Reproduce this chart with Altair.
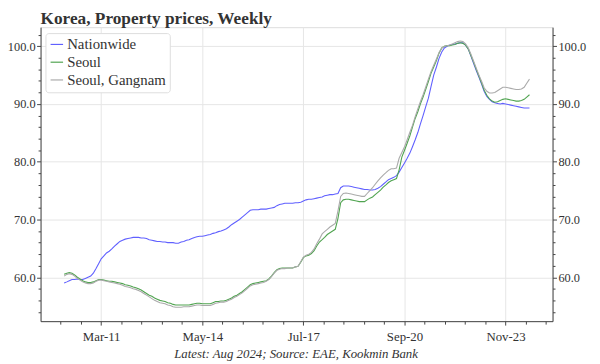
import altair as alt
import pandas as pd

# ---------------- data (monthly readings, Jan 2010 .. Aug 2024) ----------------
start_month = "2010-01-01"

nationwide = [
    59.0, 59.2, 59.4, 59.6, 59.6, 59.7, 59.6, 59.6, 59.8, 60.0,
    60.2, 60.7, 61.5, 62.4, 63.2, 63.7, 64.2, 64.5, 64.9, 65.4,
    65.8, 66.2, 66.4, 66.6, 66.7, 66.8, 66.9, 66.9, 66.9, 66.8,
    66.8, 66.7, 66.5, 66.4, 66.3, 66.2, 66.2, 66.1, 66.1, 66.0,
    66.0, 66.0, 65.9, 65.9, 66.1, 66.2, 66.4, 66.5, 66.7, 66.9,
    67.0, 67.1, 67.1, 67.2, 67.3, 67.4, 67.6, 67.7, 67.9, 68.0,
    68.2, 68.4, 68.7, 69.1, 69.4, 69.7, 70.0, 70.4, 70.8, 71.2,
    71.6, 71.7, 71.7, 71.7, 71.8, 71.8, 71.8, 71.9, 72.0, 72.1,
    72.4, 72.6, 72.7, 72.8, 72.8, 72.8, 72.8, 72.9, 72.9, 73.0,
    73.2, 73.4, 73.5, 73.5, 73.6, 73.7, 73.8, 73.9, 74.1, 74.2,
    74.3, 74.3, 74.4, 74.5, 75.5, 75.8, 75.8, 75.8, 75.7, 75.6,
    75.5, 75.4, 75.3, 75.2, 75.2, 75.1, 75.1, 75.2, 75.4, 75.7,
    76.1, 76.5, 76.9, 77.1, 77.3, 77.6, 78.2, 79.0, 79.8, 80.6,
    81.5, 82.6, 83.8, 85.1, 86.5, 88.0, 89.5, 91.0, 93.0, 95.0,
    96.4, 97.9, 99.0, 99.7, 100.0, 100.2, 100.3, 100.4, 100.5, 100.6,
    100.6, 100.2, 99.5, 98.3, 97.0, 95.8, 94.6, 93.4, 92.2, 91.3,
    90.8, 90.4, 90.2, 90.1, 90.0, 90.1, 90.0, 89.9, 89.8, 89.7,
    89.6, 89.5, 89.4, 89.3, 89.3, 89.3,
]

seoul = [
    60.5, 60.7, 60.8, 60.7, 60.4, 60.0, 59.7, 59.4, 59.2, 59.1,
    59.1, 59.2, 59.4, 59.6, 59.6, 59.5, 59.4, 59.3, 59.3, 59.2,
    59.1, 59.0, 58.9, 58.7, 58.6, 58.5, 58.3, 58.2, 58.0, 57.8,
    57.5, 57.2, 56.9, 56.7, 56.4, 56.2, 56.0, 55.9, 55.8, 55.6,
    55.5, 55.3, 55.2, 55.2, 55.2, 55.2, 55.2, 55.2, 55.3, 55.4,
    55.5, 55.5, 55.4, 55.4, 55.4, 55.4, 55.6, 55.8, 55.8, 55.9,
    55.9, 56.0, 56.2, 56.4, 56.7, 56.9, 57.2, 57.5, 57.9, 58.3,
    58.7, 58.9, 59.0, 59.1, 59.2, 59.3, 59.4, 59.7, 60.2, 60.8,
    61.3, 61.5, 61.6, 61.6, 61.6, 61.6, 61.6, 61.8, 61.9, 62.6,
    63.4, 63.7, 63.8, 64.1, 64.6, 65.4, 66.1, 66.5, 66.9, 67.4,
    67.7, 68.0, 68.3, 70.2, 72.9, 73.4, 73.5, 73.5, 73.4, 73.3,
    73.2, 73.1, 73.1, 73.1, 73.4, 73.7, 73.9, 74.3, 74.7, 75.1,
    75.6, 76.0, 76.4, 76.7, 76.9, 77.1, 78.6, 80.8, 82.0, 83.2,
    84.5, 86.0, 87.5, 88.7, 90.0, 91.2, 92.5, 93.9, 95.3, 96.4,
    97.5, 98.8, 99.7, 100.0, 100.1, 100.1, 100.2, 100.3, 100.5, 100.6,
    100.5, 100.2, 99.5, 98.4, 97.2, 96.0, 94.8, 93.6, 92.4, 91.5,
    90.9, 90.5, 90.3, 90.4, 90.6, 90.8, 90.9, 90.8, 90.7, 90.6,
    90.5, 90.5, 90.6, 90.8, 91.2, 91.6,
]

gangnam = [
    60.2, 60.5, 60.6, 60.5, 60.2, 59.8, 59.5, 59.2, 59.0, 58.9,
    58.9, 59.0, 59.3, 59.5, 59.5, 59.4, 59.3, 59.2, 59.1, 59.0,
    58.9, 58.8, 58.6, 58.4, 58.3, 58.2, 58.0, 57.9, 57.7, 57.5,
    57.2, 56.9, 56.6, 56.3, 56.0, 55.8, 55.6, 55.5, 55.4, 55.2,
    55.1, 54.9, 54.8, 54.8, 54.8, 54.9, 54.9, 54.9, 55.0, 55.1,
    55.2, 55.2, 55.1, 55.1, 55.1, 55.1, 55.3, 55.5, 55.6, 55.7,
    55.7, 55.8, 56.0, 56.2, 56.5, 56.7, 57.0, 57.3, 57.7, 58.1,
    58.5, 58.7, 58.8, 58.9, 59.0, 59.1, 59.3, 59.6, 60.1, 60.7,
    61.2, 61.4, 61.5, 61.5, 61.6, 61.6, 61.6, 61.8, 61.9, 62.7,
    63.5, 63.8, 64.0, 64.3, 64.9, 65.8, 66.6, 67.5, 67.9, 68.3,
    68.7, 69.0, 69.3, 71.5, 74.0, 74.5, 74.6, 74.5, 74.4, 74.3,
    74.2, 74.1, 74.0, 74.0, 74.5, 75.0, 75.5, 76.1, 76.7, 77.2,
    77.7, 78.1, 78.5, 78.8, 78.8, 78.9, 80.6, 81.6, 82.6, 83.8,
    85.1, 86.3, 87.8, 89.2, 90.4, 91.6, 92.9, 94.3, 95.6, 96.7,
    97.8, 98.9, 99.7, 100.0, 100.1, 100.2, 100.4, 100.6, 100.8, 100.9,
    100.8, 100.4, 99.7, 98.6, 97.4, 96.2, 95.0, 93.9, 92.8, 92.2,
    91.9, 91.9, 92.0, 92.3, 92.6, 92.9, 92.9, 92.8, 92.7, 92.6,
    92.5, 92.5, 92.6, 92.9, 93.6, 94.3,
]

series_names = ["Nationwide", "Seoul", "Seoul, Gangnam"]
series_colors = ["#6060ff", "#50a450", "#aaaaaa"]

# x-axis tick labels (major ticks) : year, month
major_ticks = [(2011, 3), (2014, 5), (2017, 7), (2020, 9), (2023, 11)]
y_ticks = list(range(54, 103, 2))

title_text = "Korea, Property prices, Weekly"
footer_text = "Latest: Aug 2024; Source: EAE, Kookmin Bank"

# ---------------- build table ----------------
dates = pd.date_range(start_month, periods=len(nationwide), freq="MS")
frames = []
for name, vals in zip(series_names, [nationwide, seoul, gangnam]):
    frames.append(pd.DataFrame({"date": dates, "value": vals, "series": name}))
df = pd.concat(frames, ignore_index=True)

# major ticks on the 1st of the month; 4 minor ticks between majors (never on the 1st)
majors = [pd.Timestamp(year=y, month=m, day=1) for y, m in major_ticks]
step = (majors[1] - majors[0]) / 5
tick_ts = list(majors)
for k in (-3, -2, -1):
    tick_ts.append((majors[0] + step * k).normalize())
for a, b in zip(majors[:-1], majors[1:]):
    st = (b - a) / 5
    for k in range(1, 5):
        tick_ts.append((a + st * k).normalize())
for k in (1, 2, 3):
    tick_ts.append((majors[-1] + step * k).normalize())
tick_ts = [t if (t.day != 1 or t in majors) else t + pd.Timedelta(days=1) for t in tick_ts]
tick_vals = [alt.DateTime(year=t.year, month=t.month, date=t.day) for t in sorted(tick_ts)]

FONT = "Liberation Serif"
TXT = "#333333"
is_major_x = "timeFormat(datum.value, '%d') == '01'"
is_major_y = "datum.value % 10 == 0"

x_axis = alt.Axis(
    values=tick_vals,
    labelExpr=f"{is_major_x} ? timeFormat(datum.value, '%b-%y') : ''",
    tickSize={"condition": {"test": is_major_x, "value": 4}, "value": 3},
    gridOpacity={"condition": {"test": is_major_x, "value": 1}, "value": 0},
    grid=True, gridColor="#e6e6e6", gridWidth=1,
    domainColor="#444444", tickColor="#444444",
    labelFont=FONT, labelFontSize=13, labelColor=TXT, labelPadding=6,
    labelOverlap=False, labelFlush=False, title=None,
)

def y_axis(orient, grid):
    return alt.Axis(
        orient=orient,
        values=y_ticks,
        labelExpr=f"{is_major_y} ? format(datum.value, '.1f') : ''",
        tickSize={"condition": {"test": is_major_y, "value": 4}, "value": 2.5},
        gridOpacity={"condition": {"test": is_major_y, "value": 1}, "value": 0},
        grid=grid, gridColor="#e6e6e6", gridWidth=1,
        domainColor="#444444", tickColor="#444444",
        labelFont=FONT, labelFontSize=12.5, labelColor=TXT, labelPadding=1.5,
        labelOverlap=False, labelFlush=False, title=None,
    )

xs = alt.Scale(domain=[alt.DateTime(year=2009, month=4, date=6),
                       alt.DateTime(year=2025, month=4, date=22)])
ys = alt.Scale(domain=[52.4, 103.3], nice=False, zero=False)

base = alt.Chart(df).encode(x=alt.X("date:T", scale=xs, axis=x_axis))

lines = base.mark_line(strokeWidth=1.1).encode(
    y=alt.Y("value:Q", scale=ys, axis=y_axis("left", True)),
    color=alt.Color(
        "series:N",
        scale=alt.Scale(domain=series_names, range=series_colors),
        legend=alt.Legend(
            orient="none", legendX=5, legendY=6, title=None,
            symbolType="stroke", symbolStrokeWidth=1.2, symbolSize=160,
            labelFont=FONT, labelFontSize=15, labelColor=TXT,
            fillColor="white", strokeColor="#dddddd", padding=4,
            cornerRadius=3, rowPadding=2, labelOffset=3,
        ),
    ),
)

right = base.mark_line(opacity=0).encode(
    y=alt.Y("value:Q", scale=ys, axis=y_axis("right", False)),
    detail="series:N",
)

footer = alt.Chart(pd.DataFrame({"t": [footer_text]})).mark_text(
    font=FONT, fontSize=13, fontStyle="italic", color=TXT, align="center", baseline="middle"
).encode(text="t:N", x=alt.value(259), y=alt.value(331))

chart = alt.layer(lines, right, footer).resolve_axis(y="independent").properties(
    width=519, height=298,
    autosize=alt.AutoSizeParams(type="none"),
    padding={"left": 33, "top": 17, "right": 40, "bottom": 41},
    title=alt.TitleParams(title_text, anchor="start", frame="group", font=FONT,
                          fontSize=17.5, fontWeight="bold", color=TXT, offset=0),
).configure_view(stroke=None).configure(background="white")

chart.save("out.html", embed_options={"renderer": "svg", "actions": False})
